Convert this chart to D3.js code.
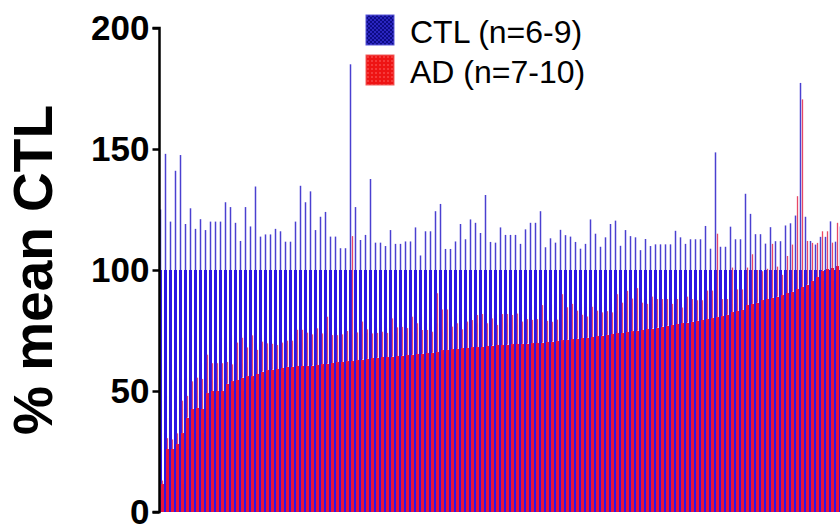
<!doctype html>
<html>
  <head>
    <script src="https://cdn.jsdelivr.net/npm/d3@7"></script>
    <style>
      body, html {
        margin: 0;
        background: #fff;
      }
      svg {
        display: block;
      }
      .tick text {
        font-family: "Liberation Sans", Arial, sans-serif;
        font-weight: bold;
      }
    </style>
  </head>
  <body>
    <svg width="840" height="529"></svg>
    <script>

      // CTL is normalised to 100 % for every item; only its SEM varies
      var ctlMean = 100;

      var ctlSem = [25, 48, 20, 41, 47.5, 19, 25.5, 17, 21, 16.5,
        20, 20, 20, 28, 26, 19.5, 12, 26, 18, 34.5,
        13.8, 14.7, 14.7, 17, 16, 11.7, 11.7, 20, 34.8, 28,
        32.5, 16.5, 22, 24, 13.8, 13.8, 9, 9, 85, 26,
        12.4, 14.5, 37.6, 11.3, 11.3, 9.9, 16.5, 10.8, 10.8, 11.8,
        11.8, 17.6, 6, 16, 16, 24.3, 27.3, 8.7, 8.7, 11.8,
        19, 12.7, 20.9, 19.5, 15.3, 31, 11.6, 11.3, 17.6, 14.5,
        14.5, 14.5, 10.8, 16.8, 19.5, 19.5, 24.3, 9.4, 13.1, 11.3,
        16.6, 14.4, 13.8, 11.6, 8.8, 10.8, 20.9, 15, 9.6, 13.5,
        19, 20.4, 10, 16.5, 14, 13.5, 8.2, 12.8, 9.9, 10.6,
        10.6, 10.6, 10.6, 16.2, 13.5, 10.8, 12.7, 12.7, 12.7, 18.2,
        8.8, 48.6, 9.6, 9.6, 17.9, 12.7, 12.7, 31.5, 23.2, 14.8,
        14.8, 10.9, 17.7, 11.9, 11.9, 18.4, 19.3, 22.5, 77.3, 22,
        12, 10.5, 13.7, 13.7, 20.1, 11.7, 18];

      var adMean = [11.5, 26, 26, 28, 32.5, 39, 42.5, 43, 42.5, 49,
        50, 50, 50, 53, 54, 54.5, 55.5, 56, 56, 57,
        58, 58.5, 58.8, 59, 59.5, 60, 60, 60.3, 60.3, 60.4,
        60.5, 60.7, 61, 61.3, 61.6, 61.8, 62, 62.2, 62.4, 62.7,
        63, 63.3, 63.5, 63.8, 64, 64, 64.2, 64.4, 64.6, 64.8,
        65, 65.2, 65.4, 65.6, 65.8, 66, 66.8, 67, 67.2, 67.4,
        67.6, 67.8, 68, 68.1, 68.2, 68.6, 68.8, 69, 69, 69.2,
        69.3, 69.4, 69.5, 69.6, 69.7, 69.8, 70, 70.2, 70.4, 70.6,
        70.9, 71.2, 71.4, 71.6, 71.8, 72, 72.3, 72.6, 72.9, 73.2,
        73.5, 73.8, 74, 74.3, 74.6, 74.9, 75.2, 75.5, 75.8, 76.2,
        76.6, 77, 77.3, 77.6, 78, 78.3, 78.6, 79, 79.3, 79.6,
        80, 80.4, 80.8, 81.5, 82.5, 83, 83.5, 85.5, 86, 86.5,
        87.5, 88, 88.5, 89, 89.5, 90.4, 91, 92, 93, 94,
        95.5, 97, 99.5, 100.3, 100.8, 101.5, 102];

      var adSem = [1.5, 4.5, 4, 4.5, 13.5, 9, 11.5, 12.5, 12.5, 16,
        11.5, 11.5, 11.5, 9, 7, 15.5, 16.5, 12, 17, 10,
        12.4, 11.2, 10.7, 10, 10.5, 10.8, 10.8, 15, 15, 13.7,
        12.9, 15.2, 12.8, 19.4, 11.5, 11.3, 11.4, 12.6, 51.6, 11.5,
        15.7, 12.2, 10.3, 10.2, 10.5, 10, 15.8, 11.9, 11.9, 11.2,
        15.7, 12.8, 9.8, 9.6, 8.7, 24.4, 16.9, 16.7, 9.4, 10.6,
        7.9, 10.9, 11.3, 13.3, 13.6, 9.4, 11.2, 8.3, 12.8, 12.6,
        12.1, 12.6, 9.2, 10.1, 9.7, 9.9, 15.5, 8.8, 8.2, 8.9,
        19.1, 13.4, 14.6, 11.6, 9.7, 8.8, 12.5, 10.6, 9.6, 9.8,
        9, 16.2, 12.5, 17.1, 13.6, 17.6, 11.3, 10.5, 13.2, 11.8,
        11.4, 11, 8.7, 10.4, 6.5, 10.7, 9.4, 8.5, 8.2, 11.9,
        11.5, 34.6, 7.2, 6.5, 18.5, 9, 8.5, 15.5, 20.5, 13.5,
        12, 12.5, 22.3, 12.4, 8.5, 15.4, 19.5, 38.5, 77.5, 18,
        15.7, 14.2, 16.5, 15.7, 10.5, 18, 8];

      var yTicks = [0, 50, 100, 150, 200];
      var legendLabels = ["CTL (n=6-9)", "AD (n=7-10)"];
      var yLabel = "% mean CTL";

      var items = d3.range(adMean.length);

      var svg = d3.select("svg");

      // legend fill patterns
      var defs = svg.append("defs");
      var pCheck = defs.append("pattern").attr("id", "checker")
        .attr("width", 4).attr("height", 4).attr("patternUnits", "userSpaceOnUse");
      pCheck.append("rect").attr("width", 4).attr("height", 4).attr("fill", "#0d0b86");
      pCheck.append("rect").attr("width", 2).attr("height", 2).attr("fill", "#2a26c0");
      pCheck.append("rect").attr("x", 2).attr("y", 2).attr("width", 2).attr("height", 2).attr("fill", "#2a26c0");
      var pDots = defs.append("pattern").attr("id", "dots")
        .attr("width", 4).attr("height", 4).attr("patternUnits", "userSpaceOnUse");
      pDots.append("rect").attr("width", 4).attr("height", 4).attr("fill", "#ee1414");
      pDots.append("circle").attr("cx", 2).attr("cy", 2).attr("r", 0.8).attr("fill", "#ff6a6a");

      var yScale = d3.scaleLinear().domain([0, 200]).range([512, 28]);
      var xScale = d3.scaleBand().domain(items).range([159, 159 + items.length * 5]).padding(0);

      var g = svg.append("g").attr("shape-rendering", "crispEdges");

      // CTL bars: 3px wide, AD bar overlaps its last pixel
      g.selectAll("rect.ctl").data(items).enter().append("rect")
        .attr("class", "ctl")
        .attr("x", d => xScale(d))
        .attr("width", 3)
        .attr("y", yScale(ctlMean))
        .attr("height", yScale(0) - yScale(ctlMean))
        .attr("fill", "#2c18e4");

      g.selectAll("rect.ad").data(items).enter().append("rect")
        .attr("class", "ad")
        .attr("x", d => xScale(d) + 2)
        .attr("width", 3)
        .attr("y", d => yScale(adMean[d]))
        .attr("height", d => yScale(0) - yScale(adMean[d]))
        .attr("fill", "#e8143c");

      // error bars (upper only), a little soft like the original
      var eg = svg.append("g");
      eg.selectAll("line.ctlErr").data(items).enter().append("line")
        .attr("class", "ctlErr")
        .attr("x1", d => xScale(d) + 1.5)
        .attr("x2", d => xScale(d) + 1.5)
        .attr("y1", yScale(ctlMean))
        .attr("y2", d => yScale(ctlMean + ctlSem[d]))
        .attr("stroke", "#4a40d0")
        .attr("stroke-width", 1.5);

      eg.selectAll("line.adErr").data(items).enter().append("line")
        .attr("class", "adErr")
        .attr("x1", d => xScale(d) + 3.5)
        .attr("x2", d => xScale(d) + 3.5)
        .attr("y1", d => yScale(adMean[d]))
        .attr("y2", d => yScale(adMean[d] + adSem[d]))
        .attr("stroke", "#e84866")
        .attr("stroke-width", 1.3);

      // y axis
      var yAxis = d3.axisLeft(yScale).tickValues(yTicks).tickSize(7).tickPadding(3);
      var ax = svg.append("g").attr("transform", "translate(159.5,0)").call(yAxis);
      ax.select(".domain").attr("stroke", "#000").attr("stroke-width", 2.5)
        .attr("d", "M-7," + yScale(200) + "H0V" + yScale(0) + "H-7");
      ax.selectAll(".tick line").attr("stroke", "#000").attr("stroke-width", 2.5);
      ax.selectAll(".tick text").attr("font-size", 35).attr("fill", "#000").attr("dy", "0.34em");

      svg.append("text")
        .attr("transform", "translate(52,270) rotate(-90)")
        .attr("text-anchor", "middle")
        .attr("font-family", "Liberation Sans, Arial, sans-serif")
        .attr("font-weight", "bold")
        .attr("font-size", 55)
        .text(yLabel);

      // legend
      var legend = svg.append("g").attr("transform", "translate(366,15)");
      legendLabels.forEach((label, i) => {
        var row = legend.append("g").attr("transform", "translate(0," + i * 40 + ")");
        row.append("rect").attr("width", 28).attr("height", 30)
          .attr("fill", i === 0 ? "url(#checker)" : "url(#dots)")
          .attr("stroke", i === 0 ? "#5a58d8" : "#f06060").attr("stroke-width", 1);
        row.append("text").attr("x", 44).attr("y", 28)
          .attr("font-family", "Liberation Sans, Arial, sans-serif")
          .attr("font-size", 32)
          .text(label);
      });

    </script>
  </body>
</html>
